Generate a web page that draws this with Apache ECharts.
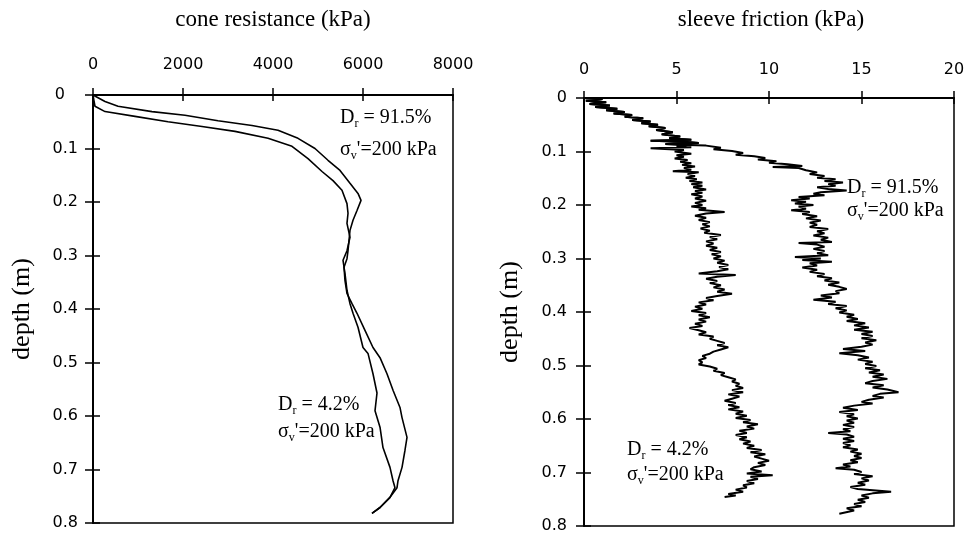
<!DOCTYPE html>
<html><head><meta charset="utf-8">
<script src="https://cdn.jsdelivr.net/npm/echarts@6/dist/echarts.min.js"></script>
<style>html,body{margin:0;padding:0;background:#fff}#c{width:970px;height:534px}</style>
</head><body><div id="c"></div>
<script>
const coneTicks = [0, 2000, 4000, 6000, 8000];
const frictionTicks = [0, 5, 10, 15, 20];
const depthTicks = [0, 0.1, 0.2, 0.3, 0.4, 0.5, 0.6, 0.7, 0.8];

// cone resistance (kPa), depth (m)
const coneDense = [[0,0],[44,0.001],[267,0.012],[556,0.021],[1311,0.031],[2044,0.038],[2778,0.048],[3533,0.057],[4111,0.066],[4556,0.081],[4933,0.100],[5222,0.122],[5489,0.141],[5711,0.165],[5889,0.184],[5956,0.197],[5867,0.216],[5778,0.234],[5711,0.253],[5689,0.272],[5667,0.291],[5644,0.306],[5578,0.322],[5600,0.347],[5644,0.371],[5756,0.390],[5867,0.408],[6044,0.440],[6222,0.472],[6378,0.491],[6533,0.521],[6667,0.552],[6822,0.584],[6867,0.603],[6978,0.640],[6933,0.664],[6867,0.696],[6778,0.721],[6756,0.734],[6600,0.752],[6378,0.771],[6200,0.782]];
const coneLoose = [[0,0],[20,0.010],[44,0.021],[267,0.031],[933,0.040],[1667,0.050],[2422,0.059],[3156,0.068],[3889,0.081],[4422,0.096],[4778,0.119],[5089,0.143],[5333,0.160],[5533,0.178],[5644,0.203],[5667,0.221],[5644,0.240],[5711,0.266],[5644,0.291],[5556,0.309],[5600,0.334],[5644,0.365],[5711,0.390],[5778,0.408],[5889,0.434],[6000,0.472],[6111,0.483],[6222,0.521],[6311,0.557],[6267,0.590],[6378,0.621],[6444,0.659],[6600,0.696],[6667,0.721],[6711,0.734],[6600,0.752],[6378,0.771],[6200,0.782]];

// sleeve friction (kPa), depth (m)
const frictionTop = [[0,0.000],[1.0,0.002],[0.1,0.005],[1.2,0.008],[0.3,0.011],[1.4,0.014],[0.6,0.017],[1.8,0.020],[1.2,0.023],[2.2,0.026],[1.6,0.029],[2.6,0.032],[2.2,0.035],[3.2,0.038],[2.6,0.041],[3.6,0.044],[3.1,0.047],[4.0,0.050],[3.5,0.053],[4.4,0.056],[3.9,0.060],[4.8,0.064],[4.2,0.068],[5.2,0.072],[4.6,0.075],[5.8,0.078],[3.6,0.080],[5.4,0.082],[6.2,0.084],[4.4,0.086],[5.6,0.088]];
const frictionDenseTail = [[6.6,0.089],[7.4,0.093],[7.0,0.096],[8.0,0.099],[8.6,0.103],[8.2,0.106],[9.2,0.109],[9.8,0.112],[9.4,0.115],[10.4,0.118],[10.0,0.121],[11.0,0.124],[11.8,0.127],[10.2,0.129],[11.6,0.131],[12.0,0.135],[12.6,0.139],[12.2,0.142],[13.0,0.146],[12.6,0.149],[13.6,0.152],[13.0,0.155],[14.0,0.158],[13.2,0.161],[13.6,0.164],[12.6,0.167],[13.2,0.170],[14.2,0.173],[12.8,0.176],[12.4,0.179],[13.0,0.182],[11.6,0.185],[12.2,0.188],[11.2,0.191],[12.0,0.194],[11.4,0.197],[12.4,0.200],[11.6,0.203],[12.0,0.207],[11.2,0.210],[12.2,0.213],[11.8,0.217],[12.6,0.221],[12.0,0.225],[12.8,0.229],[12.2,0.233],[12.6,0.237],[12.2,0.241],[13.2,0.245],[12.6,0.249],[13.0,0.253],[12.4,0.257],[13.2,0.261],[12.8,0.265],[13.4,0.269],[11.6,0.271],[12.6,0.274],[13.0,0.278],[12.4,0.282],[13.0,0.286],[12.6,0.290],[13.2,0.294],[11.4,0.297],[12.8,0.300],[11.8,0.303],[13.4,0.306],[12.2,0.309],[12.6,0.313],[11.8,0.317],[12.6,0.321],[12.2,0.325],[13.0,0.329],[12.6,0.333],[13.4,0.337],[13.0,0.341],[13.8,0.345],[13.2,0.349],[13.8,0.353],[14.2,0.357],[13.6,0.361],[13.8,0.365],[12.8,0.369],[13.4,0.373],[12.4,0.377],[13.6,0.381],[13.2,0.385],[14.2,0.389],[13.6,0.393],[14.2,0.397],[13.8,0.401],[14.6,0.405],[14.2,0.409],[14.8,0.413],[14.2,0.417],[15.2,0.421],[14.6,0.425],[15.4,0.429],[14.6,0.433],[15.6,0.437],[15.0,0.441],[15.6,0.445],[15.0,0.449],[15.8,0.453],[15.2,0.457],[15.6,0.461],[15.0,0.465],[14.0,0.469],[15.2,0.473],[13.8,0.477],[14.8,0.481],[15.4,0.485],[14.8,0.489],[15.6,0.493],[15.2,0.497],[15.8,0.501],[15.2,0.505],[16.0,0.509],[15.4,0.513],[16.2,0.517],[15.6,0.521],[16.4,0.525],[15.6,0.529],[15.2,0.533],[16.2,0.537],[15.6,0.541],[16.4,0.545],[17.0,0.550],[16.0,0.553],[15.6,0.557],[16.2,0.560],[15.4,0.564],[15.0,0.568],[15.6,0.571],[14.6,0.575],[14.0,0.579],[14.8,0.583],[13.8,0.587],[14.6,0.591],[14.2,0.595],[14.8,0.599],[14.2,0.603],[14.6,0.607],[14.0,0.611],[14.6,0.615],[14.0,0.619],[14.4,0.623],[13.2,0.626],[14.2,0.629],[14.6,0.633],[14.0,0.637],[14.6,0.641],[14.0,0.645],[14.4,0.649],[14.0,0.653],[14.8,0.657],[14.4,0.661],[15.0,0.665],[14.6,0.669],[15.0,0.673],[14.4,0.677],[14.8,0.681],[14.0,0.685],[14.4,0.689],[13.6,0.692],[14.6,0.695],[15.0,0.699],[14.6,0.703],[15.6,0.707],[15.0,0.711],[15.4,0.715],[14.8,0.719],[15.2,0.723],[14.4,0.727],[14.8,0.731],[16.6,0.736],[15.6,0.739],[15.0,0.743],[15.4,0.747],[14.8,0.751],[15.2,0.755],[14.6,0.759],[15.0,0.763],[14.2,0.767],[14.6,0.771],[13.8,0.777]];
const frictionLooseTail = [[5.0,0.090],[5.8,0.092],[3.6,0.094],[5.4,0.097],[4.9,0.100],[5.8,0.104],[5.0,0.107],[5.4,0.110],[4.9,0.113],[5.6,0.116],[5.2,0.119],[5.8,0.122],[5.3,0.125],[6.0,0.128],[5.4,0.131],[5.8,0.134],[4.8,0.137],[6.2,0.139],[5.6,0.142],[6.0,0.146],[5.5,0.149],[6.1,0.152],[5.7,0.155],[6.4,0.158],[5.8,0.161],[6.4,0.164],[5.9,0.167],[6.6,0.171],[6.0,0.174],[6.4,0.177],[5.8,0.180],[6.4,0.184],[6.0,0.188],[6.6,0.192],[6.0,0.196],[6.4,0.200],[5.8,0.203],[6.6,0.206],[6.2,0.209],[7.6,0.213],[6.6,0.216],[6.0,0.220],[6.6,0.224],[6.2,0.228],[6.8,0.232],[6.4,0.236],[6.8,0.240],[6.3,0.244],[6.8,0.248],[6.5,0.252],[7.4,0.256],[6.8,0.260],[7.2,0.264],[6.6,0.268],[7.0,0.272],[6.6,0.276],[7.2,0.280],[6.8,0.284],[7.4,0.288],[6.9,0.292],[7.4,0.296],[7.0,0.300],[7.6,0.304],[7.2,0.308],[7.8,0.312],[7.3,0.316],[7.8,0.320],[7.2,0.324],[6.2,0.328],[8.2,0.331],[7.2,0.334],[6.6,0.338],[7.2,0.342],[6.8,0.346],[7.4,0.350],[7.0,0.354],[7.6,0.358],[7.2,0.362],[8.0,0.366],[7.2,0.370],[6.6,0.374],[7.0,0.378],[6.2,0.382],[6.6,0.386],[6.0,0.390],[6.4,0.394],[5.8,0.398],[6.6,0.402],[6.2,0.406],[6.8,0.410],[6.2,0.414],[6.6,0.418],[6.0,0.422],[6.4,0.426],[5.7,0.430],[6.2,0.434],[6.6,0.438],[6.2,0.442],[7.0,0.446],[6.8,0.450],[7.2,0.454],[7.6,0.458],[7.2,0.462],[7.8,0.466],[7.4,0.470],[7.0,0.474],[6.8,0.478],[6.4,0.482],[6.6,0.486],[6.2,0.490],[6.4,0.494],[6.2,0.498],[6.8,0.502],[7.2,0.506],[7.0,0.510],[7.6,0.514],[7.4,0.518],[7.8,0.522],[8.2,0.526],[8.0,0.530],[8.4,0.534],[8.2,0.538],[8.6,0.542],[8.0,0.546],[8.6,0.550],[7.8,0.554],[8.4,0.558],[8.0,0.562],[7.6,0.566],[8.2,0.570],[7.8,0.574],[8.4,0.578],[7.8,0.582],[8.6,0.586],[8.2,0.590],[8.8,0.594],[8.2,0.598],[9.0,0.602],[8.6,0.606],[9.4,0.610],[8.8,0.614],[9.2,0.618],[8.4,0.622],[8.8,0.626],[8.2,0.630],[8.8,0.634],[8.4,0.638],[9.0,0.642],[8.6,0.646],[9.2,0.650],[8.8,0.654],[9.6,0.658],[9.0,0.662],[9.8,0.666],[9.2,0.670],[9.6,0.674],[10.0,0.678],[9.4,0.682],[9.8,0.686],[9.2,0.690],[9.0,0.694],[9.6,0.698],[8.8,0.702],[10.2,0.705],[9.0,0.708],[9.4,0.712],[8.8,0.716],[9.2,0.720],[8.6,0.724],[8.8,0.728],[8.2,0.732],[8.6,0.736],[7.8,0.740],[8.2,0.743],[7.6,0.746]];

const SERIF = 'Liberation Serif';
const SANS = 'DejaVu Sans';
const G0 = {left: 93, top: 95, width: 360, height: 428};
const G1 = {left: 584, top: 98, width: 370, height: 428};

function rng(t){ return {min: t[0], max: t[t.length-1], interval: t[1]-t[0]}; }
const cR = rng(coneTicks), fR = rng(frictionTicks), dR = rng(depthTicks);
const depthFmt = v => v === 0 ? '0' : v.toFixed(1);

function mainX(gi, r, margin){
  return {gridIndex: gi, type: 'value', position: 'top', min: r.min, max: r.max, interval: r.interval,
    axisLine: {lineStyle: {color: '#000', width: 2}},
    axisTick: {length: 7, lineStyle: {color: '#000', width: 1.5}},
    axisLabel: {margin: margin, color: '#000', fontFamily: SANS, fontSize: 16, formatter: v => String(v)},
    splitLine: {show: false}};
}
function tickX(gi, r){
  return {gridIndex: gi, type: 'value', position: 'top', min: r.min, max: r.max, interval: r.interval,
    axisLine: {show: false}, axisLabel: {show: false}, splitLine: {show: false},
    axisTick: {inside: true, length: 6, lineStyle: {color: '#000', width: 1.5}}};
}
function mainY(gi, margin, gap, rich){
  return {gridIndex: gi, type: 'value', position: 'left', inverse: true, min: dR.min, max: dR.max, interval: dR.interval,
    name: 'depth (m)', nameLocation: 'middle', nameGap: gap,
    nameTextStyle: {fontFamily: SERIF, fontSize: 26, color: '#000'},
    axisLine: {lineStyle: {color: '#000', width: 2}},
    axisTick: {length: 8, lineStyle: {color: '#000', width: 1.5}},
    axisLabel: {margin: margin, color: '#000', fontFamily: SANS, fontSize: 16,
      formatter: rich ? (v => v === 0 ? '{z|0}' : depthFmt(v)) : depthFmt,
      rich: {z: {fontFamily: SANS, fontSize: 16, color: '#000', padding: [0, 13, 0, 0]}}},
    splitLine: {show: false}};
}
function tickY(gi){
  return {gridIndex: gi, type: 'value', position: 'left', inverse: true, min: dR.min, max: dR.max, interval: dR.interval,
    axisLine: {show: false}, axisLabel: {show: false}, splitLine: {show: false},
    axisTick: {inside: true, length: 7, lineStyle: {color: '#000', width: 1.5}}};
}
const rich = {
  m: {fontFamily: SERIF, fontSize: 20, fontWeight: 'normal', lineHeight: 24, color: '#000'},
  s: {fontFamily: SERIF, fontSize: 12, fontWeight: 'normal', lineHeight: 10, verticalAlign: 'bottom', color: '#000'}
};
function note(text, left, top){
  return {text: text, left: left, top: top, padding: 0, textStyle: {rich: rich, fontSize: 20, fontWeight: 'normal'}};
}
function line(xi, yi, data, w){
  return {type: 'line', xAxisIndex: xi, yAxisIndex: yi, data: data, showSymbol: false, symbol: 'none',
    silent: true, lineStyle: {color: '#000', width: w}};
}

const chart = echarts.init(document.getElementById('c'), null, {renderer: 'canvas'});
chart.setOption({
  animation: false,
  backgroundColor: '#fff',
  title: [
    {text: 'cone resistance (kPa)', left: 273, top: 8, textAlign: 'center', padding: 0,
      textStyle: {fontFamily: SERIF, fontSize: 23, fontWeight: 'normal', color: '#000'}},
    {text: 'sleeve friction (kPa)', left: 771, top: 8, textAlign: 'center', padding: 0,
      textStyle: {fontFamily: SERIF, fontSize: 23, fontWeight: 'normal', color: '#000'}},
    note('{m|D}{s|r}{m| = 91.5%}', 340, 106),
    note("{m|σ}{s|v}{m|'=200 kPa}", 340, 138),
    note('{m|D}{s|r}{m| = 4.2%}', 278, 393),
    note("{m|σ}{s|v}{m|'=200 kPa}", 278, 420),
    note('{m|D}{s|r}{m| = 91.5%}', 847, 176),
    note("{m|σ}{s|v}{m|'=200 kPa}", 847, 199),
    note('{m|D}{s|r}{m| = 4.2%}', 627, 438),
    note("{m|σ}{s|v}{m|'=200 kPa}", 627, 463)
  ],
  grid: [
    Object.assign({show: true, borderColor: '#000', borderWidth: 1.5, backgroundColor: 'transparent'}, G0),
    Object.assign({show: true, borderColor: '#000', borderWidth: 1.5, backgroundColor: 'transparent'}, G1)
  ],
  xAxis: [mainX(0, cR, 22), tickX(0, cR), mainX(1, fR, 20), tickX(1, fR)],
  yAxis: [mainY(0, 15, 58, true), tickY(0), mainY(1, 17, 61, false), tickY(1)],
  series: [
    line(0, 0, coneDense, 1.6),
    line(0, 0, coneLoose, 1.6),
    line(2, 2, frictionTop.concat(frictionDenseTail), 2),
    line(2, 2, frictionTop.concat(frictionLooseTail), 2)
  ]
});
</script></body></html>
